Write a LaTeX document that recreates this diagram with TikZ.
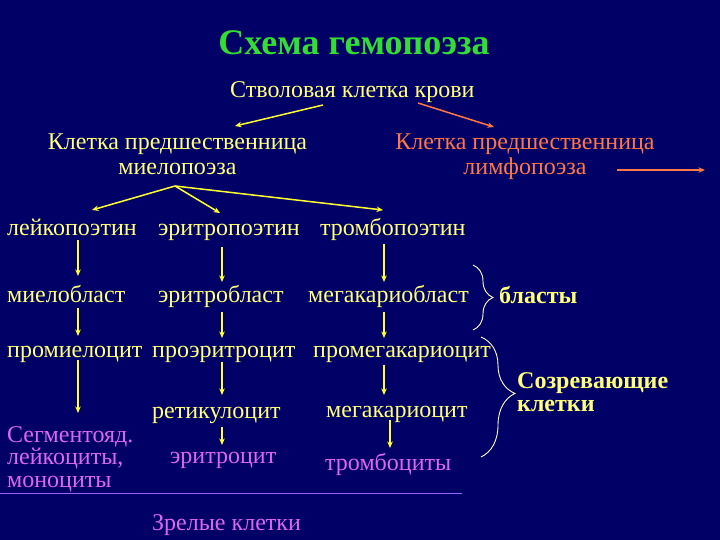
\documentclass[tikz,border=0pt]{standalone}
\usepackage{fontspec}
\setmainfont{Liberation Serif}
\usetikzlibrary{arrows.meta,calc,decorations.pathreplacing}
\definecolor{bg}{RGB}{0,0,102}
\definecolor{ttl}{RGB}{51,221,51}
\definecolor{ytext}{RGB}{255,255,120}
\definecolor{yarr}{RGB}{255,255,51}
\definecolor{otext}{RGB}{255,119,68}
\definecolor{mtext}{RGB}{221,102,238}
\definecolor{pline}{RGB}{153,102,255}
\definecolor{brc}{RGB}{255,255,204}
\begin{document}
\begin{tikzpicture}[x=1pt,y=-1pt,
  every node/.style={inner sep=0pt,anchor=base west,font=\fontsize{24}{25}\selectfont},
  yt/.style={text=ytext},
  ot/.style={text=otext},
  mt/.style={text=mtext},
  bt/.style={text=ytext,font=\fontsize{24}{23}\selectfont\bfseries},
  arr/.style={draw=yarr,line width=1.5pt,-{Stealth[length=6.5pt,width=5.5pt]}},
  oarr/.style={draw=otext,line width=1.5pt,-{Stealth[length=6.5pt,width=5.5pt]}},
  brace/.style={draw=brc,line width=0.9pt,decorate}]
\fill[bg] (0,0) rectangle (720,540);
\useasboundingbox (0,0) rectangle (720,540);
\node[text=ttl,anchor=base,font=\fontsize{36}{40}\selectfont\bfseries] (title) at (354,55) {Схема гемопоэза};
\node[yt] (stem) at (230,98) {Стволовая клетка крови};
% multi-line nodes: base anchor = baseline of the last line
\node[yt,anchor=base,align=center] (myelo) at (177.5,175) {Клетка предшественница\\миелопоэза};
\node[ot,anchor=base,align=center] (lympho) at (525,175) {Клетка предшественница\\лимфопоэза};
\coordinate (lyend) at (705,170);
% poetins
\node[yt] (leuko) at (7,236) {лейкопоэтин};
\node[yt] (eryp) at (158,236) {эритропоэтин};
\node[yt] (thrp) at (320,236) {тромбопоэтин};
% blasts
\node[yt] (myb) at (7,302) {миелобласт};
\node[yt] (eryb) at (158,302) {эритробласт};
\node[yt] (megb) at (308,302) {мегакариобласт};
% pro
\node[yt] (promy) at (7,357) {промиелоцит};
\node[yt] (proer) at (152,357) {проэритроцит};
\node[yt] (promeg) at (313,357) {промегакариоцит};
% next
\node[yt] (retic) at (152,418) {ретикулоцит};
\node[yt] (megac) at (326,417) {мегакариоцит};
% mature
\node[mt,align=left,font=\fontsize{24}{22.5}\selectfont] (segm) at (7,487) {Сегментояд.\\лейкоциты,\\моноциты};
\node[mt] (erc) at (170,463) {эритроцит};
\node[mt] (thc) at (325,470) {тромбоциты};
\node[mt] (mature) at (152,530) {Зрелые клетки};
% groups
\node[bt] (blasty) at (499,303) {бласты};
\node[bt,align=left] (matur) at (517,411) {Созревающие\\клетки};
% arrows top
\draw[arr] ($(stem.base west)+(93,7)$) -- ($(myelo.base)+(57.5,-49)$);
\draw[oarr] ($(stem.base west)+(188,5)$) -- ($(lympho.base)+(-31,-48)$);
\draw[oarr] ($(lympho.base)+(92,-5)$) -- (lyend);
\draw[arr] ($(myelo.base)+(-2.5,11)$) -- ($(leuko.base west)+(85,-26)$);
\draw[arr] ($(myelo.base)+(-2.5,11)$) -- ($(eryp.base west)+(62,-23)$);
\draw[arr] ($(myelo.base)+(-2.5,11)$) -- ($(thrp.base west)+(63,-26)$);
% vertical arrows
\draw[arr] ($(leuko.base west)+(71,4)$) -- ($(myb.base west)+(71,-26)$);
\draw[arr] ($(eryp.base west)+(64,11)$) -- ($(eryb.base west)+(64,-20)$);
\draw[arr] ($(thrp.base west)+(64,8)$) -- ($(megb.base west)+(76,-20)$);
\draw[arr] ($(myb.base west)+(71,6)$) -- ($(promy.base west)+(71,-21)$);
\draw[arr] ($(eryb.base west)+(64,10)$) -- ($(proer.base west)+(70,-19)$);
\draw[arr] ($(megb.base west)+(76,10)$) -- ($(promeg.base west)+(71,-19)$);
\draw[arr] ($(promy.base west)+(71,3)$) -- ($(segm.base west)+(71,-74)$);
\draw[arr] ($(proer.base west)+(70,5)$) -- ($(retic.base west)+(70,-23)$);
\draw[arr] ($(promeg.base west)+(71,8)$) -- ($(megac.base west)+(58,-22)$);
\draw[arr] ($(retic.base west)+(70,9)$) -- ($(erc.base west)+(52,-18)$);
\draw[arr] ($(megac.base west)+(64,3)$) -- ($(thc.base west)+(65,-22)$);
% line
\draw[pline,line width=1pt] (0,493) -- (462,493);
% braces
\draw[brace,decoration={brace,amplitude=20pt,aspect=0.5}] (473,265) -- (473,330);
\draw[brace,decoration={brace,amplitude=34pt,aspect=0.47}] (481,337) -- (481,457);
\end{tikzpicture}
\end{document}
